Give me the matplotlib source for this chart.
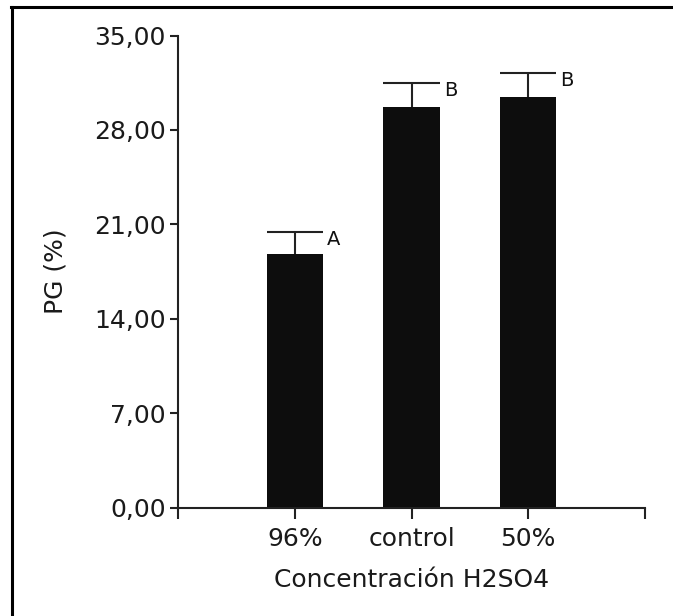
import matplotlib
matplotlib.use("Agg")
import matplotlib.pyplot as plt
from matplotlib.lines import Line2D

# Germination percentage by H2SO4 treatment
categories = ["96%", "control", "50%"]
pg_mean = [18.78, 29.72, 30.46]
pg_err = [1.67, 1.78, 1.78]
letters = ["A", "B", "B"]
y_ticks = [0, 7, 14, 21, 28, 35]
y_tick_labels = ["0,00", "7,00", "14,00", "21,00", "28,00", "35,00"]

plt.rcParams["font.family"] = "DejaVu Sans"

fig = plt.figure(figsize=(6.73, 6.16), dpi=100)
ax = fig.add_axes([178 / 673, 1 - 507.5 / 616, 467 / 673, 472 / 616])

pos = list(range(len(categories)))
bar_w = 0.48
ax.bar(pos, pg_mean, width=bar_w, color="#0d0d0d", zorder=2)
ax.errorbar(pos, pg_mean, yerr=[[0] * len(pos), pg_err], fmt="none",
            ecolor="#222222", elinewidth=1.5, capsize=0, zorder=1)
# caps as wide as the bars
for x, m, e, lab in zip(pos, pg_mean, pg_err, letters):
    top = m + e
    ax.plot([x - bar_w / 2, x + bar_w / 2], [top, top], color="#222222", lw=1.5,
            solid_capstyle="butt", zorder=1)
    ax.annotate(lab, (x + bar_w / 2, top), xytext=(3, 1), textcoords="offset points",
                ha="left", va="top", fontsize=14, color="#111111")

ax.set_xlim(-1, 3)
ax.set_ylim(0, 35)
ax.set_yticks(y_ticks)
ax.set_yticklabels(y_tick_labels)
ax.set_xticks([-1] + pos + [3])
ax.set_xticklabels([""] + categories + [""])

for side in ("top", "right"):
    ax.spines[side].set_visible(False)
for side in ("left", "bottom"):
    ax.spines[side].set_linewidth(1.5)
    ax.spines[side].set_color("#222222")

ax.tick_params(axis="y", direction="out", length=6, width=1.5, color="#222222",
               labelsize=18, pad=3, labelcolor="#1a1a1a")
ax.tick_params(axis="x", direction="out", length=8, width=1.5, color="#222222",
               labelsize=18, pad=6, labelcolor="#1a1a1a")

ax.set_ylabel("PG (%)", fontsize=18, color="#1a1a1a", labelpad=19)
ax.set_xlabel("Concentración H2SO4", fontsize=18, color="#1a1a1a", labelpad=12)

# frame around the figure (open on the right and bottom)
x0 = 12 / 673
y_top = 1 - 7 / 616
fig.add_artist(Line2D([x0, x0], [0, y_top], color="black", lw=2.2,
                      transform=fig.transFigure))
fig.add_artist(Line2D([x0 - 1 / 673, 1], [y_top, y_top], color="black", lw=2.2,
                      transform=fig.transFigure))

fig.savefig("out.png", dpi=100, facecolor="white")
